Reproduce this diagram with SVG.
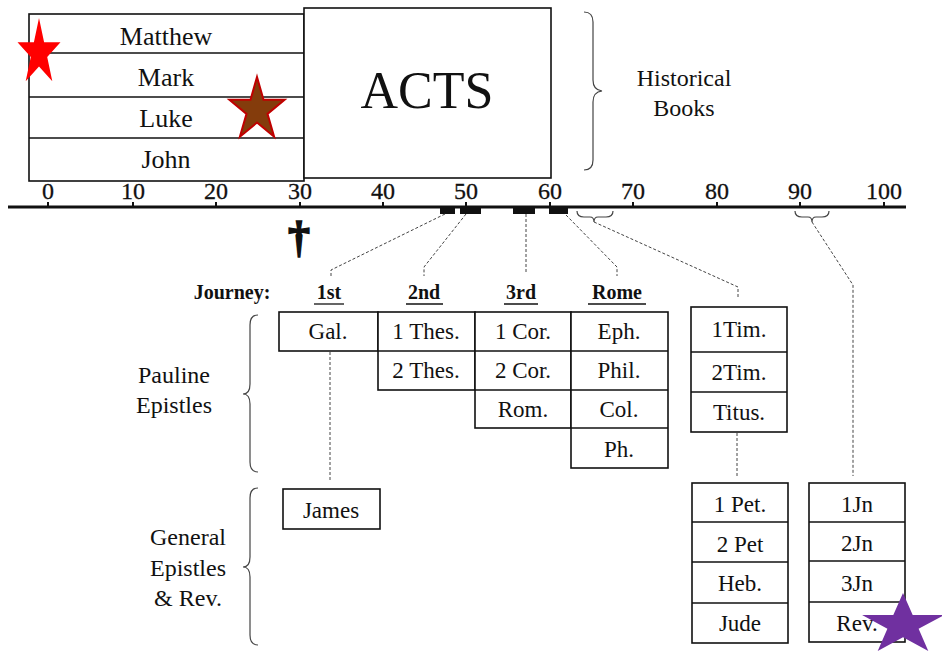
<svg xmlns="http://www.w3.org/2000/svg" width="942" height="652" viewBox="0 0 942 652">
<style>
text{font-family:"Liberation Serif","DejaVu Serif","Noto Serif",serif;fill:#111;text-anchor:middle}
.box{fill:#fff;stroke:#111;stroke-width:1.6}
.row{stroke:#111;stroke-width:1.4}
.bk{font-size:26px}
.num{font-size:24px;stroke:#111;stroke-width:0.3}
.lbl{font-size:24px}
.cell{font-size:23px}
.jr{font-size:20px;font-weight:bold}
.dash{fill:none;stroke:#444;stroke-width:1;stroke-dasharray:3 2}
.brace{fill:none;stroke:#444;stroke-width:1.2}
.tick{stroke:#111;stroke-width:2}
</style>

<g id="gospels">
<rect class="box" x="29" y="14" width="275" height="167"/>
<line class="row" x1="29" y1="53" x2="304" y2="53"/>
<line class="row" x1="29" y1="97" x2="304" y2="97"/>
<line class="row" x1="29" y1="138" x2="304" y2="138"/>
<text class="bk" x="166" y="45">Matthew</text>
<text class="bk" x="166" y="86">Mark</text>
<text class="bk" x="166" y="127">Luke</text>
<text class="bk" x="166" y="168">John</text>
</g>

<g id="acts">
<rect class="box" x="304" y="8" width="247" height="170"/>
<text x="427" y="108" style="font-size:52px">ACTS</text>
</g>

<g id="historical">
<path class="brace" d="M584,12 Q593,12 593,22 L593,80 Q593,90 602,91 Q593,92 593,102 L593,160 Q593,170 584,170"/>
<text class="lbl" x="684" y="86">Historical</text>
<text class="lbl" x="684" y="116">Books</text>
</g>

<g id="timeline">
<line x1="8" y1="207" x2="906" y2="207" stroke="#111" stroke-width="3"/>
<g class="tick">
<line x1="48" y1="202" x2="48" y2="207"/>
<line x1="133" y1="202" x2="133" y2="207"/>
<line x1="216" y1="202" x2="216" y2="207"/>
<line x1="300" y1="202" x2="300" y2="207"/>
<line x1="383" y1="202" x2="383" y2="207"/>
<line x1="466" y1="202" x2="466" y2="207"/>
<line x1="550" y1="202" x2="550" y2="207"/>
<line x1="633" y1="202" x2="633" y2="207"/>
<line x1="717" y1="202" x2="717" y2="207"/>
<line x1="800" y1="202" x2="800" y2="207"/>
<line x1="884" y1="202" x2="884" y2="207"/>
</g>
<text class="num" x="48" y="199">0</text>
<text class="num" x="133" y="199">10</text>
<text class="num" x="216" y="199">20</text>
<text class="num" x="300" y="199">30</text>
<text class="num" x="383" y="199">40</text>
<text class="num" x="466" y="199">50</text>
<text class="num" x="550" y="199">60</text>
<text class="num" x="633" y="199">70</text>
<text class="num" x="717" y="199">80</text>
<text class="num" x="800" y="199">90</text>
<text class="num" x="884" y="199">100</text>
<rect x="440" y="206" width="15" height="8" fill="#111"/>
<rect x="460" y="206" width="21" height="8" fill="#111"/>
<rect x="513" y="206" width="22" height="8" fill="#111"/>
<rect x="549" y="206" width="19" height="8" fill="#111"/>
<path class="brace" d="M577,211 Q577,217 584,217 L590,217 Q594,217 594,222 Q594,217 598,217 L606,217 Q613,217 613,211"/>
<path class="brace" d="M795,211 Q795,217 802,217 L808,217 Q812,217 812,222 Q812,217 816,217 L822,217 Q829,217 829,211"/>
<text x="299" y="252" style="font-size:44px;font-weight:bold;stroke:#111;stroke-width:1.5">†</text>
</g>

<g id="connectors">
<path class="dash" d="M445,214 L331,270 L331,276"/>
<path class="dash" d="M466,214 L424,267 L424,276"/>
<path class="dash" d="M526,214 L526,274"/>
<path class="dash" d="M566,215 L617,267 L617,276"/>
<path class="dash" d="M594,222 L738,287 L738,297"/>
<path class="dash" d="M812,222 L853,285 L853,476"/>
<path class="dash" d="M330,352 L330,482"/>
<path class="dash" d="M737,433 L737,476"/>
</g>

<g id="journey">
<text class="jr" x="232" y="299">Journey:</text>
<text class="jr" x="329" y="299">1st</text>
<text class="jr" x="424" y="299">2nd</text>
<text class="jr" x="521" y="299">3rd</text>
<text class="jr" x="617" y="299">Rome</text>
<line x1="314" y1="304" x2="344" y2="304" stroke="#111" stroke-width="1.3"/>
<line x1="406" y1="304" x2="443" y2="304" stroke="#111" stroke-width="1.3"/>
<line x1="504" y1="304" x2="538" y2="304" stroke="#111" stroke-width="1.3"/>
<line x1="588" y1="304" x2="646" y2="304" stroke="#111" stroke-width="1.3"/>
</g>

<g id="pauline-label">
<path class="brace" d="M258,315 Q250,315 250,325 L250,384 Q250,394 243,394 Q250,394 250,404 L250,462 Q250,472 258,472"/>
<text class="lbl" x="174" y="383">Pauline</text>
<text class="lbl" x="174" y="413">Epistles</text>
</g>

<g id="journey1">
<rect class="box" x="279" y="312" width="99" height="39"/>
<text class="cell" x="328" y="339">Gal.</text>
</g>

<g id="journey2">
<rect class="box" x="378" y="312" width="97" height="78"/>
<line class="row" x1="378" y1="351" x2="475" y2="351"/>
<text class="cell" x="426" y="339">1 Thes.</text>
<text class="cell" x="426" y="378">2 Thes.</text>
</g>

<g id="journey3">
<rect class="box" x="475" y="312" width="96" height="116"/>
<line class="row" x1="475" y1="351" x2="571" y2="351"/>
<line class="row" x1="475" y1="390" x2="571" y2="390"/>
<text class="cell" x="523" y="339">1 Cor.</text>
<text class="cell" x="523" y="378">2 Cor.</text>
<text class="cell" x="523" y="417">Rom.</text>
</g>

<g id="rome">
<rect class="box" x="571" y="312" width="97" height="156"/>
<line class="row" x1="571" y1="351" x2="668" y2="351"/>
<line class="row" x1="571" y1="390" x2="668" y2="390"/>
<line class="row" x1="571" y1="428" x2="668" y2="428"/>
<text class="cell" x="619" y="339">Eph.</text>
<text class="cell" x="619" y="378">Phil.</text>
<text class="cell" x="619" y="417">Col.</text>
<text class="cell" x="619" y="457">Ph.</text>
</g>

<g id="pastoral">
<rect class="box" x="691" y="307" width="96" height="125"/>
<line class="row" x1="691" y1="352" x2="787" y2="352"/>
<line class="row" x1="691" y1="392" x2="787" y2="392"/>
<text class="cell" x="739" y="337">1Tim.</text>
<text class="cell" x="739" y="380">2Tim.</text>
<text class="cell" x="739" y="420">Titus.</text>
</g>

<g id="general-label">
<path class="brace" d="M258,488 Q250,488 250,498 L250,557 Q250,567 243,567 Q250,567 250,577 L250,635 Q250,645 258,645"/>
<text class="lbl" x="188" y="545">General</text>
<text class="lbl" x="188" y="576">Epistles</text>
<text class="lbl" x="188" y="606">&amp; Rev.</text>
</g>

<g id="james">
<rect class="box" x="283" y="489" width="97" height="40"/>
<text class="cell" x="331" y="518">James</text>
</g>

<g id="peter">
<rect class="box" x="692" y="483" width="96" height="160"/>
<line class="row" x1="692" y1="522" x2="788" y2="522"/>
<line class="row" x1="692" y1="562" x2="788" y2="562"/>
<line class="row" x1="692" y1="603" x2="788" y2="603"/>
<text class="cell" x="740" y="512">1 Pet.</text>
<text class="cell" x="740" y="552">2 Pet</text>
<text class="cell" x="740" y="591">Heb.</text>
<text class="cell" x="740" y="631">Jude</text>
</g>

<g id="john">
<rect class="box" x="809" y="483" width="96" height="159"/>
<line class="row" x1="809" y1="522" x2="905" y2="522"/>
<line class="row" x1="809" y1="561" x2="905" y2="561"/>
<line class="row" x1="809" y1="602" x2="905" y2="602"/>
<text class="cell" x="857" y="512">1Jn</text>
<text class="cell" x="857" y="551">2Jn</text>
<text class="cell" x="857" y="591">3Jn</text>
<text class="cell" x="857" y="631">Rev.</text>
</g>

<g id="stars">
<polygon fill="#FF0000" points="39,18 44.1,42.2 60.5,42.2 47.2,57.1 52.3,81.3 39,66.4 25.7,81.3 30.8,57.1 17.5,42.2 33.9,42.2"/>
<polygon fill="#843C0C" stroke="#C00000" stroke-width="2" points="257,77 263.5,99.8 284.6,99.8 267.5,113.9 274.1,136.7 257,122.6 239.9,136.7 246.5,113.9 229.4,99.8 250.5,99.8"/>
<polygon fill="#7030A0" points="903,593 912.7,615.1 943.9,615.1 918.6,628.8 928.3,650.9 903,637.2 877.7,650.9 887.4,628.8 862.1,615.1 893.3,615.1"/>
</g>
</svg>
